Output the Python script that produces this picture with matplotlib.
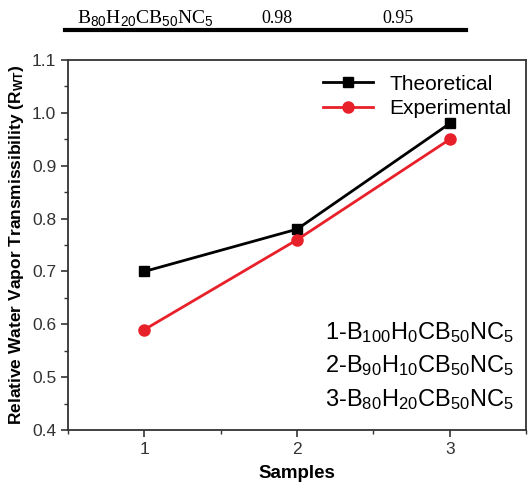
import matplotlib
matplotlib.use("Agg")
import matplotlib.pyplot as plt
from matplotlib.ticker import MultipleLocator

samples = [1, 2, 3]
theoretical = [0.70, 0.78, 0.98]
experimental = [0.59, 0.76, 0.95]
sample_names = [
    r"1-B$_{100}$H$_{0}$CB$_{50}$NC$_{5}$",
    r"2-B$_{90}$H$_{10}$CB$_{50}$NC$_{5}$",
    r"3-B$_{80}$H$_{20}$CB$_{50}$NC$_{5}$",
]
table_row = [r"B$_{80}$H$_{20}$CB$_{50}$NC$_{5}$", "0.98", "0.95"]

plt.rcParams["font.family"] = ["Liberation Sans", "DejaVu Sans"]
plt.rcParams["mathtext.fontset"] = "custom"
plt.rcParams["mathtext.rm"] = "Liberation Sans"
plt.rcParams["mathtext.it"] = "Liberation Sans"
plt.rcParams["mathtext.bf"] = "Liberation Sans:bold"

fig = plt.figure(figsize=(5.32, 4.96), dpi=100)
ax = fig.add_axes([0.128, 0.133, 0.861, 0.746])

ax.plot(samples, theoretical, "-s", color="black", lw=2, ms=7, label="Theoretical")
ax.plot(samples, experimental, "-o", color="#e8202a", lw=2, ms=8, label="Experimental")

ax.set_xlim(0.5, 3.5)
ax.set_ylim(0.4, 1.1)
ax.set_xticks(samples)
ax.xaxis.set_minor_locator(MultipleLocator(0.5))
ax.yaxis.set_major_locator(MultipleLocator(0.1))
ax.yaxis.set_minor_locator(MultipleLocator(0.05))
ax.tick_params(which="both", direction="out", colors="#333333", labelsize=12.5)
ax.tick_params(which="major", length=5, width=1.2)
ax.tick_params(which="minor", length=3, width=1)
for s in ax.spines.values():
    s.set_linewidth(1.3)
    s.set_color("#333333")

ax.set_xlabel("Samples", fontsize=13.5, fontweight="bold", labelpad=6)
ax.set_ylabel(r"Relative Water Vapor Transmissibility (R$_{\mathbf{WT}}$)",
              fontsize=12.5, fontweight="bold")

ax.legend(loc="upper right", frameon=False, fontsize=15, handlelength=2.4,
          borderaxespad=0.3, labelspacing=0.25)

ax.text(0.975, 0.05, "\n".join(sample_names), transform=ax.transAxes,
        ha="right", va="bottom", fontsize=17, linespacing=1.45)

# fragment of the table above the chart
fig.text(0.145, 0.963, table_row[0], ha="left", va="center",
         family="Liberation Serif", size=14)
fig.text(0.52, 0.963, table_row[1], ha="center", va="center",
         family="Liberation Serif", size=13)
fig.text(0.748, 0.963, table_row[2], ha="center", va="center",
         family="Liberation Serif", size=13)
fig.add_artist(plt.Line2D([0.122, 0.875], [0.94, 0.94], color="black", lw=3,
                          transform=fig.transFigure))

fig.savefig("out.png", dpi=100)
